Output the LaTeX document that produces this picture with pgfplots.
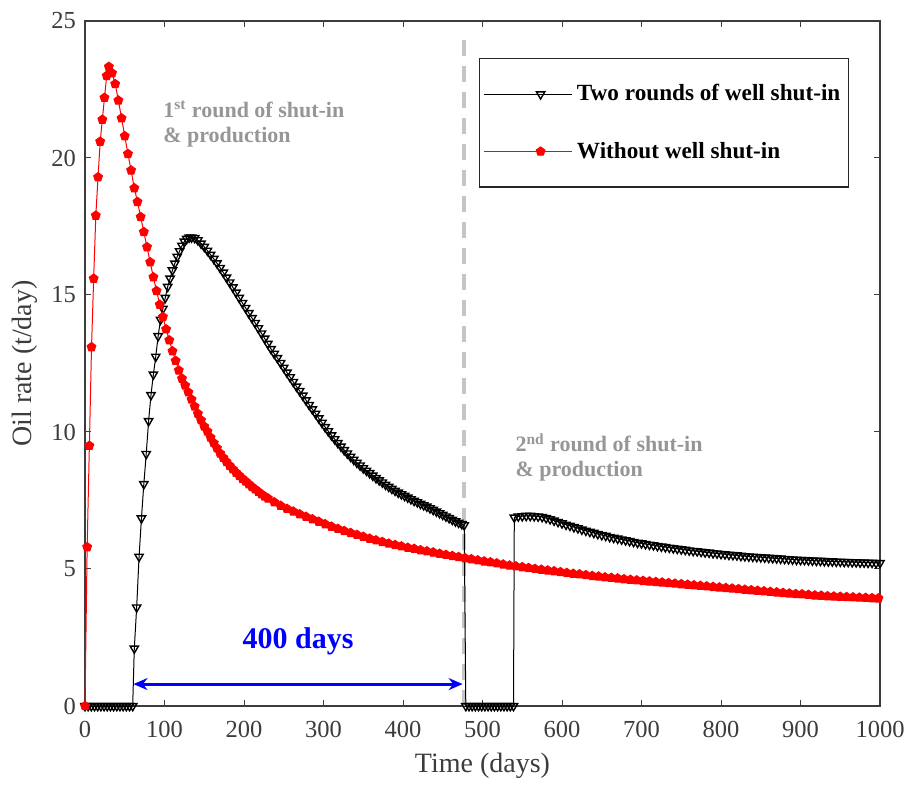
\documentclass[border=0pt]{standalone}
\usepackage{pgfplots}
\pgfplotsset{compat=1.18}
\usepackage{fontspec}
\setmainfont{Liberation Serif}
\usetikzlibrary{plotmarks,arrows.meta}

\definecolor{anngray}{RGB}{150,150,150}
\definecolor{axgray}{RGB}{60,60,60}

% two rounds of shut-in (black) and continuous production (red)
\pgfplotstableread{
t y
0 0
4 0
8 0
12 0
16 0
20 0
24 0
28 0
32 0
36 0
40 0
44 0
48 0
52 0
56 0
60 0
62 2.1
65 3.6
68 5.45
71 6.85
74 8.1
77 9.2
80 10.4
83 11.35
86 12.1
89 12.75
92 13.5
95 14.1
98 14.5
101 14.9
104 15.3
107 15.6
110 15.9
113 16.15
116 16.4
119 16.6
122 16.8
125 16.95
128 17.05
131 17.1
134 17.1
138 17.08
142 17.0
146 16.88
150 16.76
154 16.62
158 16.47
162 16.32
166 16.16
170 15.99
174 15.82
178 15.64
182 15.46
186 15.28
190 15.09
194 14.9
198 14.71
202 14.53
206 14.34
210 14.16
214 13.98
218 13.79
222 13.6
226 13.41
230 13.22
234 13.03
238 12.86
242 12.7
246 12.52
250 12.35
254 12.17
258 12.0
262 11.83
266 11.66
270 11.5
274 11.33
278 11.16
282 10.99
286 10.83
290 10.67
294 10.5
298 10.34
302 10.18
306 10.03
310 9.88
314 9.74
318 9.6
322 9.47
326 9.34
330 9.22
334 9.1
338 8.99
342 8.88
346 8.78
350 8.68
354 8.59
358 8.5
362 8.41
366 8.32
370 8.24
374 8.16
378 8.08
382 8.0
386 7.93
390 7.86
394 7.79
398 7.73
402 7.67
406 7.61
410 7.55
414 7.49
418 7.44
422 7.38
426 7.33
430 7.28
434 7.22
438 7.16
442 7.1
446 7.04
450 6.98
454 6.92
458 6.86
462 6.8
466 6.74
470 6.69
474 6.64
477 6.6
479 0
483 0
487 0
491 0
495 0
499 0
503 0
507 0
511 0
515 0
519 0
523 0
527 0
531 0
535 0
539 0
540 6.88
545 6.92
550 6.93
555 6.94
560 6.94
565 6.93
570 6.92
575 6.9
580 6.86
585 6.82
590 6.77
595 6.72
600 6.67
605 6.62
610 6.58
615 6.53
620 6.49
625 6.44
630 6.4
635 6.36
640 6.32
645 6.28
650 6.24
655 6.21
660 6.17
665 6.14
670 6.11
675 6.08
680 6.05
685 6.02
690 5.99
695 5.96
700 5.94
705 5.91
710 5.89
715 5.87
720 5.84
725 5.82
730 5.8
735 5.78
740 5.76
745 5.74
750 5.72
755 5.7
760 5.68
765 5.66
770 5.65
775 5.63
780 5.61
785 5.6
790 5.58
795 5.57
800 5.55
805 5.54
810 5.52
815 5.51
820 5.5
825 5.48
830 5.47
835 5.46
840 5.45
845 5.44
850 5.43
855 5.42
860 5.41
865 5.4
870 5.39
875 5.38
880 5.37
885 5.36
890 5.35
895 5.34
900 5.33
905 5.33
910 5.32
915 5.31
920 5.3
925 5.3
930 5.29
935 5.28
940 5.28
945 5.27
950 5.27
955 5.26
960 5.26
965 5.25
970 5.25
975 5.24
980 5.24
985 5.23
990 5.23
995 5.22
1000 5.22
}\shutin

\pgfplotstableread{
t y
0 0
2.7 5.8
5.5 9.5
8.2 13.1
10.9 15.6
13.6 17.9
16.4 19.3
19.1 20.6
21.8 21.4
24.5 22.2
27.3 23.0
30 23.33
34 23.1
38 22.7
42 22.1
46 21.45
50 20.8
54 20.15
58 19.55
62 18.9
66 18.4
70 17.85
74 17.3
78 16.75
82 16.2
86 15.65
90 15.15
94 14.65
98 14.2
102 13.75
106 13.35
110 12.95
114 12.6
118 12.25
122 11.95
126 11.7
130 11.45
134 11.19
138 10.93
142 10.67
146 10.43
150 10.2
154 10.02
158 9.8
162 9.6
166 9.41
170 9.22
174 9.06
178 8.91
182 8.77
186 8.64
190 8.52
194 8.41
198 8.3
202 8.2
206 8.1
210 8.0
214 7.91
218 7.82
222 7.73
226 7.65
230 7.58
238 7.44
246 7.31
254 7.2
262 7.1
270 7.0
278 6.91
286 6.82
294 6.73
302 6.64
310 6.55
318 6.47
326 6.39
334 6.32
342 6.25
350 6.18
358 6.11
366 6.05
374 5.99
382 5.93
390 5.88
398 5.83
406 5.78
414 5.74
422 5.69
430 5.65
438 5.61
446 5.56
454 5.52
462 5.48
470 5.44
478 5.4
486 5.36
494 5.32
502 5.28
510 5.25
518 5.21
526 5.17
534 5.13
542 5.1
550 5.07
558 5.04
566 5.01
574 4.98
582 4.95
590 4.92
598 4.89
606 4.86
614 4.83
622 4.81
630 4.78
638 4.75
646 4.73
654 4.7
662 4.68
670 4.66
678 4.63
686 4.61
694 4.59
702 4.57
710 4.55
718 4.53
726 4.51
734 4.49
742 4.47
750 4.45
758 4.43
766 4.41
774 4.39
782 4.37
790 4.35
798 4.33
806 4.31
814 4.29
822 4.27
830 4.25
838 4.23
846 4.21
854 4.19
862 4.17
870 4.15
878 4.13
886 4.11
894 4.09
902 4.08
910 4.06
918 4.04
926 4.03
934 4.01
942 4.0
950 3.99
958 3.98
966 3.97
974 3.96
982 3.95
990 3.94
998 3.93
}\noshutin

\begin{document}
\begin{tikzpicture}
\begin{axis}[
    scale only axis,
    width=397.5pt, height=342.5pt,
    xmin=0, xmax=1000, ymin=0, ymax=25,
    xtick={0,100,...,1000}, ytick={0,5,...,25},
    tick align=inside, major tick length=3pt,
    axis line style={axgray, line width=0.6pt},
    every tick/.style={axgray, line width=0.5pt},
    tick label style={font=\fontsize{12.25}{14}\selectfont, text=axgray},
    xticklabel style={yshift=-4pt},
    yticklabel style={xshift=-1pt},
    /pgf/number format/assume math mode=true,
    /pgf/number format/1000 sep={},
    xlabel={Time (days)}, ylabel={Oil rate (t/day)},
    label style={font=\fontsize{14}{16}\selectfont, text=axgray},
    xlabel style={yshift=-1pt},
    legend cell align=left,
    legend style={at={(0.961,0.946)}, anchor=north east,
        draw=black!85, line width=0.6pt, font=\bfseries\fontsize{11.6}{13.5}\selectfont,
        inner xsep=2pt, inner ysep=11pt, row sep=15pt},
    legend image code/.code={
        \path (-12.5pt,0) -- (1.12cm,0);
        \draw[mark repeat=2, mark phase=2, #1]
            plot coordinates {(0cm,0cm) (0.56cm,0cm) (1.12cm,0cm)};},
    clip=false,
]
\draw[anngray!55, line width=2.2pt, dash pattern=on 8pt off 5pt]
    (axis cs:477,0) -- (axis cs:477,24.6);

\addplot[black, line width=0.5pt, mark=triangle,
    mark options={solid, rotate=180, line width=0.7pt}, mark size=2.4pt]
    table[x=t, y=y] {\shutin};
\addlegendentry{Two rounds of well shut-in}

\addplot[red, line width=0.5pt, mark=pentagon*,
    mark options={solid, fill=red, draw=red}, mark size=2.3pt]
    table[x=t, y=y] {\noshutin};
\addlegendentry{Without well shut-in}

\draw[blue, line width=1.5pt, {Stealth[length=7pt,width=6pt]}-{Stealth[length=7pt,width=6pt]}]
    (axis cs:61,0.8) -- (axis cs:475,0.8);
\node[blue, font=\bfseries\fontsize{15}{17}\selectfont] at (axis cs:268,2.35) {400 days};

\node[anngray, anchor=west, align=left, inner xsep=0pt, font=\bfseries\fontsize{11}{12.5}\selectfont]
    at (axis cs:98,21.25) {1\textsuperscript{st} round of shut-in\\\& production};
\node[anngray, anchor=west, align=left, inner xsep=0pt, font=\bfseries\fontsize{11}{12.5}\selectfont]
    at (axis cs:541,9.07) {2\textsuperscript{nd} round of shut-in\\\& production};
\end{axis}
\path ([xshift=-42.5pt,yshift=-40pt]current axis.south west)
    rectangle ([xshift=17pt,yshift=10.5pt]current axis.north east);
\end{tikzpicture}
\end{document}
